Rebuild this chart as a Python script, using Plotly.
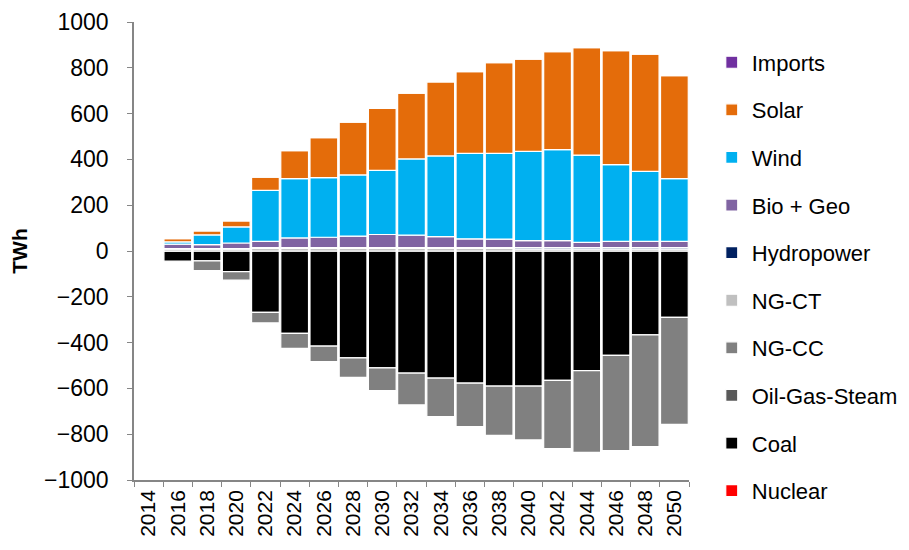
import plotly.graph_objects as go

years = [str(y) for y in range(2014, 2051, 2)]

nuclear      = [0]*19
coal         = [0, -44, -43, -90, -268, -360, -415, -467, -510, -533, -555, -577, -590, -590, -565, -522, -456, -366, -290]
oil_gas      = [0]*19
ng_cc        = [0, 0, -43, -37, -46, -65, -68, -85, -100, -139, -168, -190, -215, -235, -298, -357, -416, -488, -467]
ng_ct        = [0, 8, 8, 8, 11, 11, 11, 11, 11, 11, 11, 11, 11, 8, 8, 8, 8, 8, 8]
hydro        = [0, 2, 2, 2, 4, 4, 4, 4, 4, 4, 4, 4, 4, 7, 7, 7, 7, 7, 7]
bio_geo      = [0, 20, 18, 25, 27, 42, 45, 50, 57, 54, 48, 38, 37, 30, 30, 23, 27, 27, 27]
wind         = [0, 10, 42, 70, 223, 259, 260, 267, 280, 333, 352, 373, 374, 390, 398, 381, 335, 306, 274]
solar        = [0, 14, 18, 26, 57, 122, 175, 231, 271, 287, 323, 357, 396, 403, 427, 469, 498, 512, 450]
imports      = [0]*19

series = [
    ("Nuclear", nuclear, "#FF0000"),
    ("Coal", coal, "#000000"),
    ("Oil-Gas-Steam", oil_gas, "#595959"),
    ("NG-CC", ng_cc, "#808080"),
    ("NG-CT", ng_ct, "#C0C0C0"),
    ("Hydropower", hydro, "#002060"),
    ("Bio + Geo", bio_geo, "#8064A2"),
    ("Wind", wind, "#00B0F0"),
    ("Solar", solar, "#E46C0A"),
    ("Imports", imports, "#7030A0"),
]

FONT = "Liberation Sans"

fig = go.Figure()
n = len(series)
for i, (name, vals, color) in enumerate(series):
    fig.add_trace(go.Bar(
        x=years, y=vals, name=name, legendgroup=name, legendrank=n - i,
        marker=dict(color=color, line=dict(color="white", width=1.2)),
    ))

fig.update_layout(
    width=917, height=550,
    barmode="relative", bargap=0.05,
    paper_bgcolor="white", plot_bgcolor="white",
    margin=dict(l=126, r=236, t=14, b=78),
    font=dict(family=FONT, size=22, color="black"),
    showlegend=True,
    legend=dict(
        x=1.041, xanchor="left", y=0.9575, yanchor="top",
        traceorder="grouped", tracegroupgap=16, maxheight=545,
        font=dict(family=FONT, size=22, color="black"),
        bgcolor="rgba(0,0,0,0)",
    ),
)
fig.update_xaxes(
    type="category", showline=True, linecolor="#868686", linewidth=1.5,
    ticks="outside", ticklen=5, tickcolor="#868686", tickson="boundaries",
    tickangle=-90, tickfont=dict(size=21), showgrid=False, zeroline=False,
    automargin=False,
)
fig.update_yaxes(
    range=[-1000, 1000], dtick=200, showline=True, linecolor="#868686", linewidth=1.5,
    ticks="outside", ticklen=5, tickcolor="#868686", showgrid=False, zeroline=False,
    tickfont=dict(size=23), ticklabelstandoff=14, automargin=False,
    title=dict(text="<b>TWh</b>", font=dict(size=21), standoff=24),
)

fig.write_html("out.html")
